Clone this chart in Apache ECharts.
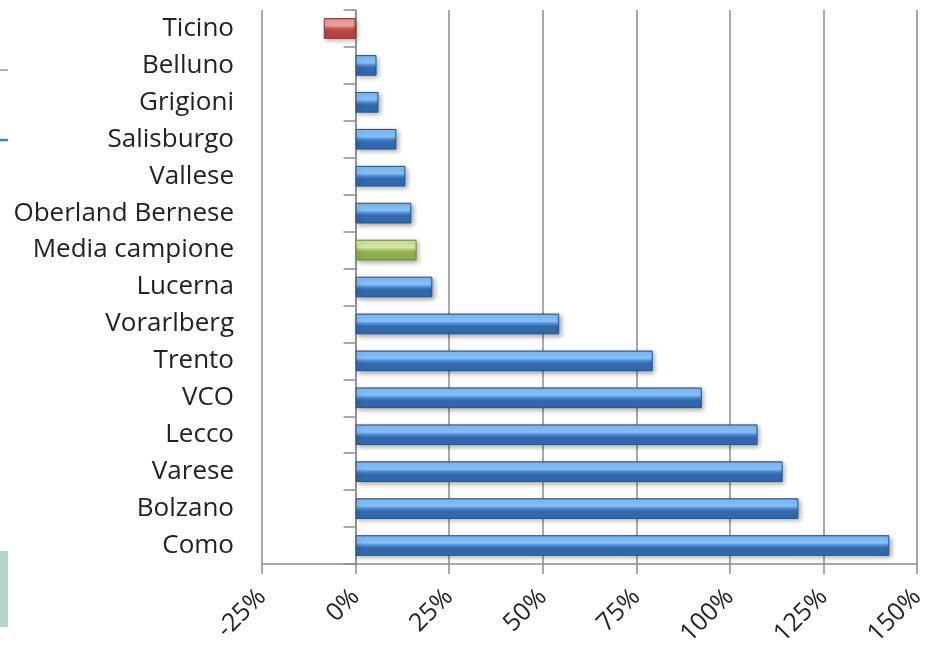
<!DOCTYPE html>
<html>
<head>
<meta charset="utf-8">
<script src="https://cdn.jsdelivr.net/npm/echarts@6/dist/echarts.min.js"></script>
<style>
  html, body { margin: 0; padding: 0; background: #fff; }
  #chart { width: 928px; height: 650px; }
</style>
</head>
<body>
<div id="chart"></div>
<script>
// dati (variazione %)
const regions = ['Ticino', 'Belluno', 'Grigioni', 'Salisburgo', 'Vallese', 'Oberland Bernese',
  'Media campione', 'Lucerna', 'Vorarlberg', 'Trento', 'VCO', 'Lecco', 'Varese', 'Bolzano', 'Como']
const values = [-8.5, 5.6, 6.1, 10.9, 13.3, 14.9, 16.3, 20.5, 54.4, 79.4, 92.5, 107.4, 114.1, 118.3, 142.6]
const xTicks = [-25, 0, 25, 50, 75, 100, 125, 150]

const labelFont = 'Open Sans'

function bevel (edge, light, mid, dark) {
  return new echarts.graphic.LinearGradient(0, 0, 0, 1, [
    { offset: 0, color: edge },
    { offset: 0.08, color: light },
    { offset: 0.38, color: light },
    { offset: 0.48, color: mid },
    { offset: 0.62, color: dark },
    { offset: 1, color: dark }
  ])
}

const blue = bevel('#3d73b8', '#85c1fa', '#4f8fdb', '#3469ab')
const red = bevel('#a84442', '#eea3a0', '#cf5a56', '#b34744')
const green = bevel('#82a048', '#d6eaa8', '#a9c86a', '#8fae52')

const barData = values.map((v, i) => {
  let color = blue
  let border = '#2a5585'
  if (v < 0) { color = red; border = '#8e3432' }
  if (regions[i] === 'Media campione') { color = green; border = '#6f8a3c' }
  return { value: v, itemStyle: { color: color, borderColor: border } }
})

const chart = echarts.init(document.getElementById('chart'))
chart.setOption({
  animation: false,
  grid: { left: 262, right: 9, top: 10, bottom: 86 },
  xAxis: {
    type: 'value',
    min: xTicks[0],
    max: xTicks[xTicks.length - 1],
    interval: 25,
    axisLine: { show: true, lineStyle: { color: '#8c8c8c', width: 1.5 } },
    axisTick: { show: true, length: 10, lineStyle: { color: '#8c8c8c', width: 1.5 } },
    axisLabel: {
      rotate: 45,
      margin: 29,
      color: '#222',
      fontFamily: labelFont,
      fontSize: 25,
      formatter: v => v + '%'
    },
    splitLine: { show: true, lineStyle: { color: '#8c8c8c', width: 1.5 } }
  },
  yAxis: [
    {
      // asse a zero con le tacche
      type: 'category',
      data: regions,
      inverse: true,
      axisLine: { show: true, onZero: true, lineStyle: { color: '#8c8c8c', width: 1.5 } },
      axisTick: { show: true, length: 12, lineStyle: { color: '#8c8c8c', width: 1.5 } },
      axisLabel: { show: false }
    },
    {
      // etichette a sinistra dell'area
      type: 'category',
      data: regions,
      inverse: true,
      position: 'left',
      axisLine: { show: false, onZero: false },
      axisTick: { show: false },
      axisLabel: {
        margin: 28,
        color: '#222',
        fontFamily: labelFont,
        fontSize: 26
      }
    }
  ],
  series: [{
    type: 'bar',
    yAxisIndex: 0,
    data: barData,
    barWidth: '56%',
    itemStyle: {
      borderWidth: 1,
      shadowBlur: 5,
      shadowColor: 'rgba(0,0,0,0.35)',
      shadowOffsetX: 2,
      shadowOffsetY: 2
    }
  }],
  graphic: [
    { type: 'rect', left: 0, top: 551, shape: { width: 8, height: 76 }, style: { fill: '#b6d3c9' } },
    { type: 'line', shape: { x1: 0, y1: 70, x2: 8, y2: 70 }, style: { stroke: '#9a9a9a', lineWidth: 1.5 } },
    { type: 'line', shape: { x1: 0, y1: 140, x2: 8, y2: 140 }, style: { stroke: '#4a7fc8', lineWidth: 2.5 } }
  ]
})
</script>
</body>
</html>
